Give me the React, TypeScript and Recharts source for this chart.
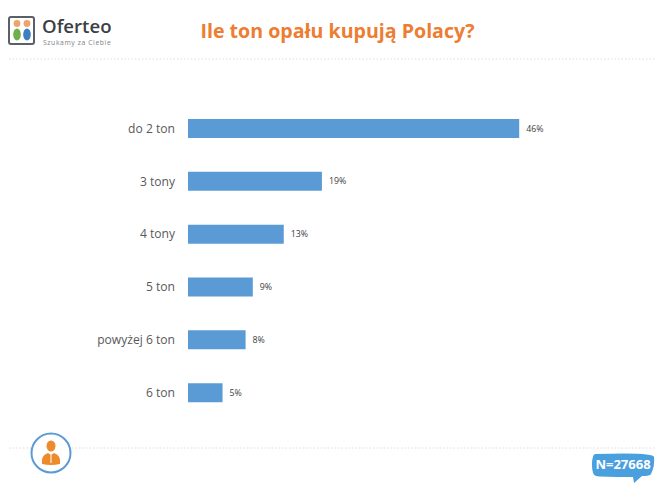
import { Bar, BarChart, LabelList, XAxis, YAxis } from "recharts";

const categories = ["do 2 ton", "3 tony", "4 tony", "5 ton", "powyżej 6 ton", "6 ton"];
const shares = [46, 18.6, 13.3, 9, 8, 4.8];
const tableData = categories.map((name, i) => ({ name, share: shares[i] }));

const TITLE = "Ile ton opału kupują Polacy?";
const SAMPLE = "N=27668";
const FONT = "'Open Sans', sans-serif";

function Decorations() {
  return (
    <svg width={664} height={487} style={{ position: "absolute", left: 0, top: 0 }}>
      {/* logo */}
      <rect x={9} y={17} width={25} height={27} rx={2} fill="#fff" stroke="#5b6068" strokeWidth={2} />
      <circle cx={17} cy={23.5} r={3.4} fill="#eda36a" />
      <circle cx={27} cy={23.5} r={3.4} fill="#eda36a" />
      <ellipse cx={17} cy={34.5} rx={3.8} ry={6} fill="#6fb04a" />
      <ellipse cx={27} cy={34.5} rx={3.8} ry={6} fill="#3f7fc1" />
      <text x={42} y={33} fontFamily={FONT} fontSize={18.6} fontWeight={600} fill="#3b3f44">Oferteo</text>
      <text x={43} y={44.5} fontFamily={FONT} fontSize={6.8} fill="#7d8288" letterSpacing={0.6}>Szukamy za Ciebie</text>

      <text x={337.5} y={38} textAnchor="middle" fontFamily={FONT} fontSize={19.6} fontWeight={700} fill="#ed7d31">{TITLE}</text>

      <line x1={9} y1={59} x2={655} y2={59} stroke="#dcdcdc" strokeDasharray="1.5 2" />
      <line x1={9} y1={448} x2={655} y2={448} stroke="#dcdcdc" strokeDasharray="1.5 2" />

      {/* person badge */}
      <circle cx={51} cy={453} r={19.5} fill="#fff" stroke="#5b9bd5" strokeWidth={2} />
      <ellipse cx={51} cy={446} rx={4.5} ry={5.5} fill="#ed8a2c" />
      <path d="M42 464 q-1 -9 6 -11 l3 2 l3 -2 q7 2 6 11 q-9 2 -18 0 z" fill="#ed8a2c" />
      <line x1={51} y1={455} x2={51} y2={463} stroke="#fff" strokeWidth={1} />

      {/* sample bubble */}
      <path d="M595 454 Q654 452 654 457 Q655 466 651 474 Q650 476 642 476 L634 483 L633 477 Q600 477 596 476 Q592 475 592 465 Q592 455 595 454 Z" fill="#4a9fdf" />
      <text x={623} y={469} textAnchor="middle" fontFamily={FONT} fontSize={13} fontWeight={700} fill="#fff">{SAMPLE}</text>
    </svg>
  );
}

export default function App() {
  return (
    <div style={{ position: "fixed", left: 0, top: 0, width: 664, height: 487, background: "#fff" }}>
      <Decorations />
      <div style={{ position: "absolute", left: 0, top: 0 }}>
        <BarChart
          width={664}
          height={487}
          data={tableData}
          layout="vertical"
          margin={{ top: 102, right: 116, bottom: 68, left: 0 }}
        >
          <XAxis type="number" domain={[0, 50]} hide />
          <YAxis
            type="category"
            dataKey="name"
            width={188}
            axisLine={false}
            tickLine={false}
            tickMargin={7}
            tick={{ fill: "#595959", fontSize: 12.1, fontFamily: FONT }}
          />
          <Bar dataKey="share" fill="#5b9bd5" barSize={19} isAnimationActive={false}>
            <LabelList
              dataKey="share"
              position="right"
              offset={7}
              formatter={(v: number) => `${Math.round(v)}%`}
              style={{ fill: "#404040", fontSize: 8.8, fontFamily: FONT }}
            />
          </Bar>
        </BarChart>
      </div>
    </div>
  );
}
